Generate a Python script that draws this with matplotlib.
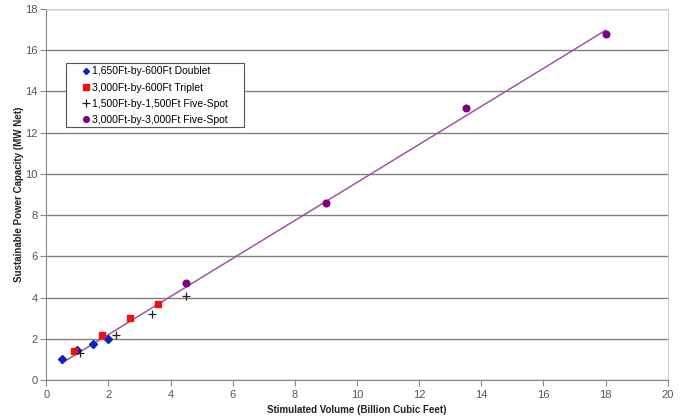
import matplotlib.pyplot as plt
from matplotlib.patches import Rectangle
import numpy as np

plt.rcParams['font.family'] = ['Liberation Sans', 'DejaVu Sans']

# data
doublet_x = [0.5, 1.0, 1.5, 2.0]
doublet_y = [1.0, 1.45, 1.75, 2.0]
triplet_x = [0.9, 1.8, 2.7, 3.6]
triplet_y = [1.4, 2.2, 3.0, 3.7]
five15_x = [1.1, 2.25, 3.4, 4.5]
five15_y = [1.3, 2.2, 3.2, 4.1]
five30_x = [4.5, 9.0, 13.5, 18.0]
five30_y = [4.7, 8.6, 13.2, 16.8]
labels = ["1,650Ft-by-600Ft Doublet", "3,000Ft-by-600Ft Triplet",
          "1,500Ft-by-1,500Ft Five-Spot", "3,000Ft-by-3,000Ft Five-Spot"]

fig = plt.figure(figsize=(6.8, 4.2), dpi=100)
ax = fig.add_axes([0.068, 0.095, 0.914, 0.884])

# linear trend over all points
all_x = np.array(doublet_x + triplet_x + five15_x + five30_x)
all_y = np.array(doublet_y + triplet_y + five15_y + five30_y)
m, b = np.polyfit(all_x, all_y, 1)
xs = np.array([all_x.min(), all_x.max()])
ax.plot(xs, m * xs + b, color='#a055a8', lw=1.1, zorder=2)

ax.plot(doublet_x, doublet_y, 'D', color='#1020c0', ms=3.6, ls='none', label=labels[0], zorder=3)
ax.plot(triplet_x, triplet_y, 's', color='#ee1111', ms=4.6, ls='none', label=labels[1], zorder=3)
ax.plot(five15_x, five15_y, '+', color='#222222', ms=6, mew=0.9, ls='none', label=labels[2], zorder=3)
ax.plot(five30_x, five30_y, 'o', color='#800080', ms=4.8, ls='none', label=labels[3], zorder=3)

ax.set_xlim(0, 20)
ax.set_ylim(0, 18)
ax.set_xticks(range(0, 21, 2))
ax.set_yticks(range(0, 19, 2))
ax.yaxis.grid(True, color='#808080', lw=1.0)
ax.set_axisbelow(True)
for s in ['top', 'right']:
    ax.spines[s].set_color('#d0d0d0')
for s in ['left', 'bottom']:
    ax.spines[s].set_color('#888888')
ax.tick_params(direction='out', length=4, color='#888888', labelsize=8, labelcolor='#555555')
ax.tick_params(axis='x', pad=3)
ax.tick_params(axis='y', pad=2)

ax.set_xlabel("Stimulated Volume (Billion Cubic Feet)", fontsize=7, fontweight='bold', color='#222222', labelpad=4)
ax.set_ylabel("Sustainable Power Capacity (MW Net)", fontsize=7, fontweight='bold', color='#222222', labelpad=1)

# legend box drawn separately, entries placed inside it
ax.add_patch(Rectangle((0.032, 0.682), 0.286, 0.172, transform=ax.transAxes, facecolor='white',
                       edgecolor='#555555', lw=0.8, zorder=4))
leg = ax.legend(loc='upper left', bbox_to_anchor=(0.056, 0.845), fontsize=7.5, frameon=False,
                handletextpad=0.08, handlelength=1.0, borderpad=0, labelspacing=0.6,
                markerscale=0.85, borderaxespad=0)
leg.set_zorder(5)

fig.savefig('out.png', dpi=100)
